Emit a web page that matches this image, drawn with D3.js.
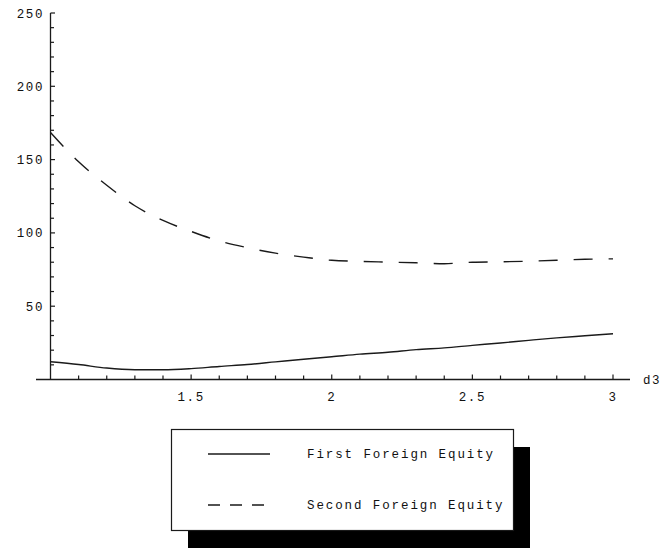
<!DOCTYPE html>
<html>
<head>
<meta charset="utf-8">
<script src="https://cdn.jsdelivr.net/npm/d3@7"></script>
<style>
  html, body { margin: 0; padding: 0; background: #fff; }
  svg { display: block; }
  text { font-family: "Liberation Mono", "DejaVu Sans Mono", monospace; fill: #111; }
</style>
</head>
<body>
<svg id="chart" width="661" height="550"></svg>
<script>
// ---- data ----
const d3Values = [1.0, 1.1, 1.2, 1.3, 1.4, 1.5, 1.6, 1.7, 1.8, 1.9, 2.0,
                  2.1, 2.2, 2.3, 2.4, 2.5, 2.6, 2.7, 2.8, 2.9, 3.0];
const firstForeignEquity = [12.1, 10.2, 7.8, 6.7, 6.6, 7.4, 8.9, 10.2, 12.0, 13.8, 15.5,
                            17.3, 18.6, 20.4, 21.6, 23.3, 24.9, 26.7, 28.4, 29.8, 31.2];
const secondForeignEquity = [168.5, 148.5, 132.5, 118.5, 108.5, 101.0, 94.5, 89.9, 86.2, 83.5, 81.3,
                             80.6, 80.1, 79.6, 79.0, 80.0, 80.3, 80.7, 81.3, 82.0, 82.3];
const seriesNames = ["First Foreign Equity", "Second Foreign Equity"];
const xTickLabels = [1.5, 2, 2.5, 3];
const yTickLabels = [50, 100, 150, 200, 250];
const xAxisLabel = "d3";

// ---- layout ----
const svg = d3.select("#chart");
const x = d3.scaleLinear().domain([1, 3]).range([50.5, 613]);
const y = d3.scaleLinear().domain([0, 250]).range([379.5, 13]);
const ink = "#1a1a1a";

// axes lines
svg.append("line").attr("x1", 36).attr("x2", 630)
  .attr("y1", y(0)).attr("y2", y(0)).attr("stroke", ink).attr("stroke-width", 1.3);
svg.append("line").attr("x1", x(1)).attr("x2", x(1))
  .attr("y1", y(250)).attr("y2", y(0)).attr("stroke", ink).attr("stroke-width", 1.3);

// x ticks
const xMinor = d3.range(11, 31).map(v => v / 10);
svg.selectAll(".xt").data(xMinor).enter().append("line")
  .attr("x1", d => x(d)).attr("x2", d => x(d))
  .attr("y1", y(0)).attr("y2", d => y(0) - (xTickLabels.some(t => Math.abs(t - d) < 1e-6) ? 5 : 4))
  .attr("stroke", ink).attr("stroke-width", 1.2);
svg.selectAll(".xl").data(xTickLabels).enter().append("text")
  .attr("x", d => x(d)).attr("y", 401)
  .attr("text-anchor", "middle").attr("font-size", 12.5).attr("letter-spacing", 1.6)
  .text(d => d);
svg.append("text").attr("x", 643).attr("y", y(0) + 4)
  .attr("font-size", 12.5).attr("letter-spacing", 1.6).text(xAxisLabel);

// y ticks
const yMinor = d3.range(10, 251, 10);
svg.selectAll(".yt").data(yMinor).enter().append("line")
  .attr("x1", x(1)).attr("x2", d => x(1) + (d % 50 === 0 ? 4.5 : 3.5))
  .attr("y1", d => y(d)).attr("y2", d => y(d))
  .attr("stroke", ink).attr("stroke-width", 1.2);
svg.selectAll(".yl").data(yTickLabels).enter().append("text")
  .attr("x", 44).attr("y", d => y(d) + 4.5)
  .attr("text-anchor", "end").attr("font-size", 12.5).attr("letter-spacing", 1.6)
  .text(d => d);

// curves
const line = d3.line().x(d => x(d[0])).y(d => y(d[1])).curve(d3.curveMonotoneX);
svg.append("path")
  .datum(d3Values.map((v, i) => [v, firstForeignEquity[i]]))
  .attr("d", line).attr("fill", "none").attr("stroke", ink).attr("stroke-width", 1.4);
svg.append("path")
  .datum(d3Values.map((v, i) => [v, secondForeignEquity[i]]))
  .attr("d", line).attr("fill", "none").attr("stroke", ink).attr("stroke-width", 1.4)
  .attr("stroke-dasharray", "19,16");

// legend
const lg = svg.append("g");
lg.append("rect").attr("x", 188).attr("y", 447).attr("width", 342).attr("height", 101).attr("fill", "#000");
lg.append("rect").attr("x", 171.5).attr("y", 429.5).attr("width", 342).attr("height", 101)
  .attr("fill", "#fff").attr("stroke", ink).attr("stroke-width", 1.2);
const legendRows = [{ name: seriesNames[0], dash: null, yy: 454 },
                    { name: seriesNames[1], dash: "12,10", yy: 505 }];
legendRows.forEach(r => {
  lg.append("line").attr("x1", 208).attr("x2", 270).attr("y1", r.yy).attr("y2", r.yy)
    .attr("stroke", ink).attr("stroke-width", 1.4)
    .attr("stroke-dasharray", r.dash);
  lg.append("text").attr("x", 307).attr("y", r.yy + 4)
    .attr("font-size", 12.5).attr("letter-spacing", 1.9).text(r.name);
});
</script>
</body>
</html>
